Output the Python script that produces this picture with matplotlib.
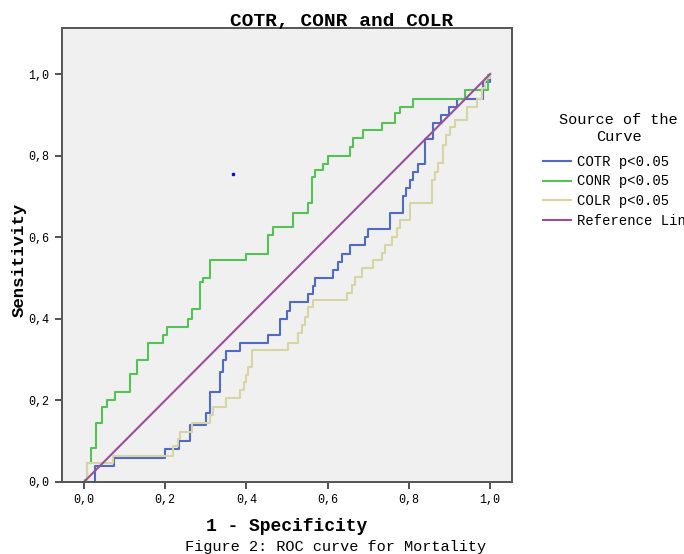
import matplotlib
matplotlib.use("Agg")
import matplotlib.pyplot as plt

# ROC curve vertices (1 - specificity, sensitivity)
cotr_x = [0.0, 0.027, 0.027, 0.073, 0.073, 0.196, 0.20, 0.215, 0.235, 0.255, 0.26, 0.30, 0.30,
          0.31, 0.33, 0.335, 0.343, 0.35, 0.38, 0.385, 0.445, 0.453, 0.475, 0.483, 0.50, 0.507,
          0.548, 0.552, 0.564, 0.57, 0.61, 0.613, 0.625, 0.635, 0.655, 0.687, 0.692, 0.699,
          0.748, 0.753, 0.782, 0.785, 0.793, 0.803, 0.81, 0.823, 0.836, 0.84, 0.86, 0.86, 0.88,
          0.90, 0.918, 0.97, 0.983, 1.0]
cotr_y = [0.0, 0.0, 0.04, 0.04, 0.06, 0.06, 0.08, 0.08, 0.10, 0.10, 0.14, 0.14, 0.17,
          0.22, 0.22, 0.27, 0.30, 0.32, 0.32, 0.34, 0.34, 0.36, 0.36, 0.40, 0.42, 0.44,
          0.44, 0.46, 0.48, 0.50, 0.50, 0.52, 0.54, 0.56, 0.58, 0.58, 0.60, 0.62,
          0.62, 0.66, 0.66, 0.70, 0.72, 0.74, 0.76, 0.78, 0.78, 0.84, 0.84, 0.88, 0.90,
          0.92, 0.94, 0.94, 0.98, 1.0]

conr_x = [0.0, 0.002, 0.007, 0.017, 0.031, 0.044, 0.056, 0.076, 0.076, 0.113, 0.113, 0.13,
          0.158, 0.195, 0.195, 0.204, 0.25, 0.256, 0.265, 0.286, 0.293, 0.31, 0.40, 0.40,
          0.44, 0.453, 0.466, 0.507, 0.515, 0.552, 0.561, 0.569, 0.589, 0.60, 0.65, 0.655,
          0.663, 0.687, 0.687, 0.729, 0.733, 0.761, 0.766, 0.778, 0.81, 0.81, 0.938, 0.938,
          0.98, 0.995, 1.0]
conr_y = [0.0, 0.005, 0.047, 0.083, 0.145, 0.184, 0.20, 0.20, 0.22, 0.22, 0.265, 0.30,
          0.34, 0.34, 0.36, 0.38, 0.38, 0.40, 0.425, 0.49, 0.50, 0.545, 0.545, 0.56,
          0.56, 0.605, 0.625, 0.625, 0.66, 0.685, 0.748, 0.765, 0.78, 0.80, 0.80, 0.82,
          0.843, 0.843, 0.863, 0.863, 0.88, 0.88, 0.905, 0.92, 0.92, 0.94, 0.94, 0.96,
          0.96, 0.998, 1.0]

colr_x = [0.0, 0.002, 0.007, 0.072, 0.072, 0.216, 0.22, 0.232, 0.236, 0.26, 0.265, 0.302,
          0.31, 0.318, 0.348, 0.351, 0.38, 0.384, 0.395, 0.40, 0.404, 0.413, 0.499, 0.502,
          0.52, 0.527, 0.536, 0.545, 0.552, 0.564, 0.643, 0.647, 0.659, 0.667, 0.684, 0.712,
          0.733, 0.741, 0.758, 0.77, 0.778, 0.803, 0.852, 0.856, 0.865, 0.872, 0.885, 0.892,
          0.901, 0.914, 0.943, 0.967, 0.98, 0.988, 1.0]
colr_y = [0.0, 0.0, 0.046, 0.046, 0.064, 0.064, 0.087, 0.105, 0.123, 0.123, 0.145, 0.145,
          0.164, 0.185, 0.185, 0.205, 0.205, 0.225, 0.245, 0.262, 0.283, 0.324, 0.324, 0.34,
          0.34, 0.365, 0.385, 0.405, 0.43, 0.446, 0.446, 0.463, 0.483, 0.503, 0.524, 0.544,
          0.561, 0.581, 0.601, 0.622, 0.642, 0.683, 0.683, 0.74, 0.76, 0.781, 0.826, 0.85,
          0.87, 0.887, 0.92, 0.94, 0.966, 0.99, 1.0]

ref_x = [0.0, 1.0]
ref_y = [0.0, 1.0]

series_labels = ["COTR p<0.05", "CONR p<0.05", "COLR p<0.05", "Reference Line"]
tick_vals = [0.0, 0.2, 0.4, 0.6, 0.8, 1.0]
tick_labels = ["0,0", "0,2", "0,4", "0,6", "0,8", "1,0"]

mono = "Liberation Mono"

fig = plt.figure(figsize=(6.84, 5.54), dpi=100)
ax = fig.add_axes([0.0906, 0.130, 0.658, 0.8195])
ax.set_facecolor("#f0f0f0")

ax.plot(cotr_x, cotr_y, color="#4f6bc4", lw=1.5, drawstyle="steps-post", label=series_labels[0])
ax.plot(conr_x, conr_y, color="#55c255", lw=1.5, drawstyle="steps-post", label=series_labels[1])
ax.plot(colr_x, colr_y, color="#d8d5a4", lw=1.5, drawstyle="steps-post", label=series_labels[2])
ax.plot(ref_x, ref_y, color="#9b4f9b", lw=1.5, label=series_labels[3])
ax.plot([0.367], [0.755], marker="s", ms=1.6, color="#1010d0", lw=0)

ax.set_xlim(-0.054, 1.054)
ax.set_ylim(0.0, 1.113)
ax.set_xticks(tick_vals)
ax.set_xticklabels(tick_labels, fontfamily=mono, fontsize=8.5)
ax.set_yticks(tick_vals)
ax.set_yticklabels(tick_labels, fontfamily=mono, fontsize=8.5)
ax.tick_params(direction="out", length=5, width=1.2, color="#333333", pad=4)
for s in ax.spines.values():
    s.set_color("#555555")
    s.set_linewidth(1.4)

# title is centred over the whole chart, not just the plot area
fig.text(0.5, 0.962, "COTR, CONR and COLR", fontfamily=mono, fontweight="bold", fontsize=14,
         ha="center", va="center")
ax.set_xlabel("1 - Specificity", fontfamily=mono, fontweight="bold", fontsize=13, labelpad=8)
ax.set_ylabel("Sensitivity", fontfamily=mono, fontweight="bold", fontsize=12.5, labelpad=0)
ax.yaxis.set_label_coords(-0.078, 0.49)

# the last entry runs past the right edge, as in the original
leg = fig.legend(loc="upper left", bbox_to_anchor=(0.776, 0.818), frameon=False,
                 title="Source of the\nCurve", prop={"family": mono, "size": 10},
                 handlelength=2.0, handletextpad=0.4, labelspacing=0.42)
leg.get_title().set_fontfamily(mono)
leg.get_title().set_fontsize(11)
leg.get_title().set_multialignment("center")
leg._legend_box.sep = 8

fig.text(0.49, 0.012, "Figure 2: ROC curve for Mortality", fontfamily=mono, fontsize=11,
         ha="center", va="center")

fig.savefig("out.png", dpi=100)
